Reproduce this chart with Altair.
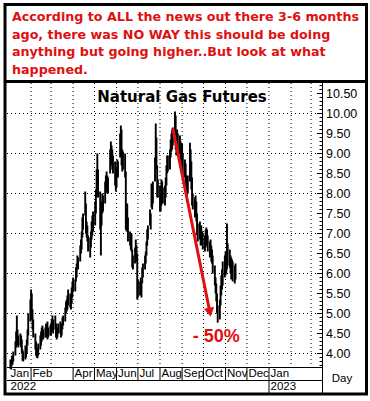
import altair as alt
import pandas as pd

# ---------------- data ----------------
jan_lo = [3.62, 3.60, 3.70, 3.72, 3.80, 3.95, 4.15, 4.40, 4.20, 4.15, 4.20, 4.15, 4.00, 3.82, 3.80, 3.85, 3.90, 4.00, 4.20, 4.45, 4.80]
jan_hi = [3.85, 3.82, 3.95, 3.92, 4.05, 4.30, 4.55, 4.95, 4.60, 4.45, 4.50, 4.45, 4.35, 4.10, 4.05, 4.20, 4.15, 4.35, 4.60, 5.00, 5.35]
feb_lo = [5.00, 4.85, 4.60, 4.40, 4.10, 3.95, 3.90, 3.88, 3.95, 4.10, 4.20, 4.30, 4.40, 4.35, 4.40, 4.40, 4.45, 4.35, 4.40, 4.45]
feb_hi = [5.60, 5.50, 5.10, 4.85, 4.50, 4.30, 4.15, 4.10, 4.25, 4.45, 4.55, 4.65, 4.70, 4.60, 4.65, 4.75, 4.70, 4.80, 4.65, 4.70]
mar_lo = [4.45, 4.55, 4.60, 4.50, 4.60, 4.40, 4.35, 4.40, 4.50, 4.50, 4.40, 4.45, 4.60, 4.70, 4.80, 5.00, 5.05, 5.10, 5.20, 5.15, 5.10, 5.25, 5.40]
mar_hi = [4.75, 4.85, 4.95, 4.85, 4.95, 4.75, 4.60, 4.65, 4.75, 4.80, 4.65, 4.75, 4.90, 4.95, 5.15, 5.30, 5.35, 5.45, 5.60, 5.50, 5.45, 5.65, 5.80]
apr_lo = [5.55, 5.55, 5.80, 5.90, 6.15, 6.10, 6.30, 6.50, 6.60, 6.90, 7.10, 7.45, 7.00, 6.90, 6.80, 6.55, 6.40, 6.65, 6.85, 6.95, 7.05]
apr_hi = [5.90, 5.85, 6.15, 6.25, 6.45, 6.40, 6.70, 6.85, 7.05, 7.40, 7.50, 8.05, 7.75, 7.30, 7.20, 6.95, 6.90, 7.05, 7.30, 7.45, 7.55]
may_lo = [7.20, 7.50, 7.90, 8.30, 7.90, 7.10, 6.45, 7.20, 7.50, 7.55, 7.75, 8.00, 8.10, 8.05, 8.00, 8.50, 8.80, 8.70, 8.60, 8.50, 8.20, 8.05]
may_hi = [7.80, 8.10, 8.60, 9.00, 8.60, 8.05, 7.30, 7.80, 8.00, 7.95, 8.30, 8.45, 8.55, 8.45, 8.40, 9.10, 9.30, 9.20, 9.10, 8.95, 8.80, 8.65]
jun_lo = [8.15, 8.45, 8.40, 8.90, 9.10, 8.70, 8.55, 8.60, 8.40, 7.10, 7.05, 7.30, 6.80, 6.70, 6.60, 6.55, 6.15, 6.10, 6.25, 6.40, 6.30, 5.35]
jun_hi = [8.65, 8.85, 8.80, 9.50, 9.70, 9.60, 9.10, 9.05, 9.00, 8.55, 7.60, 7.75, 7.40, 7.05, 6.95, 7.00, 6.60, 6.45, 6.65, 6.85, 6.70, 6.50]
jul_lo = [5.40, 5.45, 5.50, 5.40, 5.75, 5.90, 6.10, 6.25, 6.45, 6.70, 6.85, 7.20, 7.10, 7.65, 7.60, 7.75, 8.30, 8.75, 8.60, 7.90, 7.90]
jul_hi = [5.85, 5.80, 5.90, 5.75, 6.15, 6.25, 6.45, 6.55, 6.80, 7.10, 7.20, 7.60, 7.50, 8.25, 8.20, 8.30, 8.90, 9.75, 9.40, 8.70, 8.35]
aug_lo = [7.55, 7.55, 7.70, 7.85, 7.75, 7.70, 7.90, 8.20, 8.50, 8.55, 8.60, 8.90, 9.05, 9.10, 9.20, 9.40, 9.10, 8.95, 9.15, 9.05, 9.00, 8.80, 8.85]
aug_hi = [8.20, 7.95, 8.35, 8.30, 8.15, 8.20, 8.40, 8.70, 8.95, 8.95, 9.10, 9.35, 9.50, 9.60, 9.65, 10.05, 9.95, 9.50, 9.60, 9.50, 9.45, 9.30, 9.25]
sep_lo = [8.70, 8.45, 8.40, 8.20, 7.95, 7.90, 8.00, 8.30, 8.40, 8.10, 7.70, 7.60, 7.40, 7.45, 7.30, 6.95, 6.80, 6.85, 6.70, 6.75, 6.70, 6.60]
sep_hi = [9.25, 9.00, 8.85, 8.75, 8.45, 8.30, 8.45, 9.27, 9.10, 8.80, 8.40, 8.00, 7.90, 7.95, 7.80, 7.50, 7.25, 7.30, 7.20, 7.20, 7.05, 7.00]
oct_lo = [6.55, 6.65, 6.75, 6.70, 6.55, 6.40, 6.45, 6.30, 6.25, 6.00, 5.70, 5.50, 5.30, 5.00, 4.77, 4.85, 5.20, 5.45, 5.60, 5.70, 5.90]
oct_hi = [6.95, 7.10, 7.15, 7.10, 6.95, 6.80, 6.85, 6.70, 6.60, 6.45, 6.20, 5.90, 5.75, 5.50, 5.20, 5.35, 5.70, 5.95, 6.10, 6.30, 6.45]
nov_lo = [5.95, 6.00, 6.10, 6.20, 6.15, 6.00, 5.85, 5.90, 5.80, 5.75, 5.85]
nov_hi = [6.55, 6.50, 7.25, 6.75, 6.60, 6.45, 6.40, 6.35, 6.30, 6.20, 6.25]

first_day = "2022-01-03"
last_day = "2022-11-15"

# month boundaries (grid) and labelled months
grid_months = ["2022-02-01", "2022-03-01", "2022-04-01", "2022-05-01", "2022-06-01", "2022-07-01",
               "2022-08-01", "2022-09-01", "2022-10-01", "2022-11-01", "2022-12-01", "2023-01-01",
               "2023-02-01", "2023-03-01"]
label_months = ["2022-01-01", "2022-02-01", "2022-04-01", "2022-05-01", "2022-06-01", "2022-07-01",
                "2022-08-01", "2022-09-01", "2022-10-01", "2022-11-01", "2022-12-01", "2023-01-01"]
month_names = ["Jan", "Feb", "Apr", "May", "Jun", "Jul", "Aug", "Sep", "Oct", "Nov", "Dec", "Jan"]
year_starts = ["2022-01-01", "2023-01-01"]
year_names = ["2022", "2023"]

grid_levels = [4.0, 5.0, 6.0, 7.0, 8.0, 9.0, 10.0]
major_ticks = [4.0, 4.5, 5.0, 5.5, 6.0, 6.5, 7.0, 7.5, 8.0, 8.5, 9.0, 9.5, 10.0, 10.5]
tick_labels = ["4.00", "4.50", "5.00", "5.50", "6.00", "6.50", "7.00", "7.50", "8.00", "8.50",
               "9.00", "9.50", "10.00", "10.50"]

arrow_from = ("2022-08-19", 9.63)
arrow_to = ("2022-10-10", 5.03)
pct_pos = ("2022-10-19", 4.42)
pct_text = "- 50%"

title_text = "Natural Gas Futures"
note_lines = [
    "According to ALL the news out there 3-6 months",
    "ago, there was NO WAY this should be doing",
    "anything but going higher..But look at what",
    "happened.",
]

# ---------------- tables ----------------
origin = pd.Timestamp("2022-01-01")
X_DOM = [-2.8, 439.4]
Y_DOM = [3.6625, 10.7625]
W, H = 315, 284


def dnum(s):
    return [int(v) for v in (pd.to_datetime(pd.Series(s)) - origin).dt.days]


lows = jan_lo + feb_lo + mar_lo + apr_lo + may_lo + jun_lo + jul_lo + aug_lo + sep_lo + oct_lo + nov_lo
highs = jan_hi + feb_hi + mar_hi + apr_hi + may_hi + jun_hi + jul_hi + aug_hi + sep_hi + oct_hi + nov_hi
dates = pd.bdate_range(first_day, last_day)
n = min(len(dates), len(lows), len(highs))
prices = pd.DataFrame({"day": (dates[:n] - origin).days, "lo": lows[:n], "hi": highs[:n]})

# grid as two-point polylines (one per grid line)
grid_rows = []
for i, lvl in enumerate(grid_levels):
    grid_rows.append({"gid": f"h{i}", "k": 0, "gx": X_DOM[0], "gy": lvl})
    grid_rows.append({"gid": f"h{i}", "k": 1, "gx": X_DOM[1], "gy": lvl})
for i, d in enumerate(dnum(grid_months)):
    grid_rows.append({"gid": f"v{i}", "k": 0, "gx": d, "gy": Y_DOM[1]})
    grid_rows.append({"gid": f"v{i}", "k": 1, "gx": d, "gy": Y_DOM[0]})
grid_df = pd.DataFrame(grid_rows)

lab_df = pd.DataFrame({"day": dnum(label_months), "name": month_names})
year_df = pd.DataFrame({"day": dnum(year_starts), "name": year_names})
major_df = pd.DataFrame({"v": major_ticks, "lab": tick_labels})
minor_df = pd.DataFrame({"v": [round(3.7 + 0.1 * i, 2) for i in range(71)]})
arrow_df = pd.DataFrame({"d1": dnum([arrow_from[0]]), "p1": [arrow_from[1]],
                         "d2": dnum([arrow_to[0]]), "p2": [arrow_to[1]]})
pct_df = pd.DataFrame({"day": dnum([pct_pos[0]]), "p": [pct_pos[1]], "t": [pct_text]})
one = pd.DataFrame({"k": [0]})

RED = "#e01010"
xs = alt.Scale(domain=X_DOM, nice=False, zero=False)
ys = alt.Scale(domain=Y_DOM, nice=False, zero=False)

X = lambda f: alt.X(f, scale=xs, axis=None)
Y = lambda f: alt.Y(f, scale=ys, axis=None)

# ---------------- layers ----------------
grid = alt.Chart(grid_df).mark_line(color="black", strokeWidth=1, strokeDash=[1, 3],
                                    opacity=1, interpolate="linear").encode(
    x=X("gx:Q"), y=Y("gy:Q"), detail="gid:N", order="k:Q")

bars = alt.Chart(prices).mark_rule(color="black", strokeWidth=1.9).encode(
    x=X("day:Q"), y=Y("lo:Q"), y2="hi:Q")

major = alt.Chart(major_df).mark_rule(color="black", strokeWidth=1).encode(
    y=Y("v:Q"), x=alt.value(W - 5), x2=alt.value(W))
minor = alt.Chart(minor_df).mark_rule(color="black", strokeWidth=1).encode(
    y=Y("v:Q"), x=alt.value(W - 2.5), x2=alt.value(W))
ylabels = alt.Chart(major_df).mark_text(font="Liberation Sans", fontSize=12.5, color="black",
                                        align="left", baseline="middle").encode(
    y=Y("v:Q"), x=alt.value(W + 4), text="lab:N")

arrow = alt.Chart(arrow_df).mark_rule(color=RED, strokeWidth=3).encode(
    x=X("d1:Q"), y=Y("p1:Q"), x2="d2:Q", y2="p2:Q")
head = alt.Chart(arrow_df).mark_point(shape="triangle-up", filled=True, color=RED, opacity=1,
                                      size=110, angle=168.8).encode(
    x=X("d2:Q"), y=Y("p2:Q"))
pct = alt.Chart(pct_df).mark_text(font="Liberation Sans", fontWeight="bold", fontSize=18,
                                  color=RED, baseline="middle").encode(
    x=X("day:Q"), y=Y("p:Q"), text="t:N")

title = alt.Chart(one).mark_text(font="DejaVu Sans", fontWeight="bold", fontSize=15,
                                 color="black", baseline="alphabetic", text=title_text).encode(
    x=alt.value(175), y=alt.value(18.5))

notes = [
    alt.Chart(one).mark_text(font="DejaVu Sans", fontWeight="bold", fontSize=12.7, color=RED,
                             align="left", baseline="alphabetic", text=line).encode(
        x=alt.value(5), y=alt.value(-62 + 17.6 * i))
    for i, line in enumerate(note_lines)
]

# frame and axis rows
frame = alt.Chart(one).mark_rect(fillOpacity=0, stroke="black", strokeWidth=3).encode(
    x=alt.value(-2), x2=alt.value(359.5), y=alt.value(-78.5), y2=alt.value(311))
sep_top = alt.Chart(one).mark_rule(color="black", strokeWidth=3).encode(
    x=alt.value(-2), x2=alt.value(359.5), y=alt.value(-1.5))
xline = alt.Chart(one).mark_rule(color="black", strokeWidth=1).encode(
    x=alt.value(0), x2=alt.value(W), y=alt.value(H + 0.5))
rowline = alt.Chart(one).mark_rule(color="black", strokeWidth=1).encode(
    x=alt.value(0), x2=alt.value(W), y=alt.value(H + 13.5))
yline = alt.Chart(one).mark_rule(color="black", strokeWidth=1).encode(
    x=alt.value(W + 0.5), y=alt.value(0), y2=alt.value(H + 27))

msep = alt.Chart(lab_df.iloc[1:]).mark_rule(color="black", strokeWidth=1).encode(
    x=X("day:Q"), y=alt.value(H), y2=alt.value(H + 13))
ysep = alt.Chart(year_df.iloc[1:]).mark_rule(color="black", strokeWidth=1).encode(
    x=X("day:Q"), y=alt.value(H + 13), y2=alt.value(H + 27))
mlab = alt.Chart(lab_df).mark_text(font="Liberation Sans", fontSize=11.5, color="black",
                                   align="left", baseline="middle", dx=1.5).encode(
    x=X("day:Q"), y=alt.value(H + 7), text="name:N")
ylab = alt.Chart(year_df).mark_text(font="Liberation Sans", fontSize=11.5, color="black",
                                    align="left", baseline="middle", dx=1.5).encode(
    x=X("day:Q"), y=alt.value(H + 19.5), text="name:N")
daylab = alt.Chart(one).mark_text(font="Liberation Sans", fontSize=11.5, color="black",
                                  align="center", baseline="middle", text="Day").encode(
    x=alt.value(W + 20), y=alt.value(H + 12))

chart = alt.layer(
    grid, bars, major, minor, ylabels, arrow, head, pct, title, *notes,
    frame, sep_top, xline, rowline, yline, msep, ysep, mlab, ylab, daylab
).properties(
    width=W, height=H,
    padding={"left": 7, "top": 83, "right": 48, "bottom": 34},
    autosize=alt.AutoSizeParams(type="none"),
    background="white",
).configure_view(strokeWidth=0)

chart.save("out.html", embed_options={"renderer": "svg", "actions": False})
